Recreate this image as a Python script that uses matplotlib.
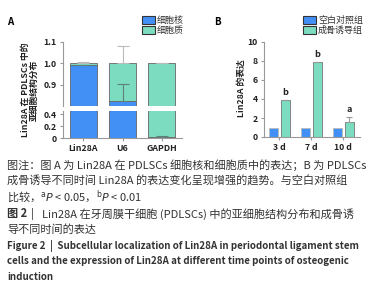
import matplotlib
matplotlib.use('Agg')
import matplotlib.pyplot as plt
import numpy as np

plt.rcParams['font.family'] = ['Noto Sans CJK SC', 'DejaVu Sans']

# 图 A 数据
genes = ['Lin28A', 'U6', 'GAPDH']
nucleus = [0.99, 0.825, 0.02]
nucleus_err = [0.004, 0.08, 0.012]
cyto = [0.01, 0.175, 0.98]
cyto_err = [0.004, 0.08, 0.003]

# 图 B 数据
days = ['3 d', '7 d', '10 d']
control = [1.0, 1.0, 1.0]
osteo = [3.85, 7.85, 1.6]
osteo_err = [0.05, 0.05, 0.5]
sig = ['b', 'b', 'a']

W, H = 378, 291
blue = '#428ff5'
green = '#7bdcc0'
edge = '#666666'
txt = '#333333'

def fx(x):
    return x / W

def fy(y):
    return 1 - y / H

fig = plt.figure(figsize=(W / 100, H / 100), dpi=100)

def style(ax):
    for s in ['top', 'right']:
        ax.spines[s].set_visible(False)
    for s in ['left', 'bottom']:
        ax.spines[s].set_color('#999999')
        ax.spines[s].set_linewidth(0.8)
    ax.tick_params(colors='#999999', labelcolor='#222222', length=2.5, width=0.8,
                   labelsize=6.3, pad=2)
    for lab in ax.get_xticklabels() + ax.get_yticklabels():
        lab.set_fontweight('bold')

# ---- 图 A：断轴堆叠柱 ----
x = np.arange(len(genes))
w = 0.68
axu = fig.add_axes([fx(63), fy(106), fx(182) - fx(63), fy(42) - fy(106)])
axl = fig.add_axes([fx(63), fy(138), fx(182) - fx(63), fy(111) - fy(138)])
for ax in (axu, axl):
    ax.bar(x, nucleus, w, color=blue, edgecolor=edge, linewidth=0.6)
    ax.bar(x, cyto, w, bottom=nucleus, color=green, edgecolor=edge, linewidth=0.6)
    ax.errorbar(x, nucleus, yerr=[[0, 0, 0], nucleus_err], fmt='none',
                ecolor='#5f7f78', elinewidth=0.8, capsize=4.5, capthick=0.8)
    ax.errorbar(x, np.array(nucleus) + np.array(cyto), yerr=[[0, 0, 0], cyto_err],
                fmt='none', ecolor='#bbbbbb', elinewidth=0.8, capsize=4.5, capthick=0.8)
    ax.set_xlim(-0.52, 2.52)
axu.set_ylim(0.8, 1.1)
axu.set_yticks([0.9, 1.0, 1.1])
axu.set_yticklabels(['0.9', '1.0', '1.1'])
axu.set_xticks([])
axl.set_ylim(0, 0.45)
axl.set_yticks([0, 0.2, 0.4])
axl.set_yticklabels(['0', '0.2', '0.4'])
axl.set_xticks(x)
axl.set_xticklabels(genes)
style(axu)
style(axl)
axu.spines['bottom'].set_visible(False)

fig.text(fx(30), fy(90), 'Lin28A 在 PDLSCs 中的\n亚细胞结构分布', rotation=90,
         ha='center', va='center', fontsize=6.3, fontweight='bold', color='#222222',
         linespacing=1.0)

# ---- 图 B：分组柱 ----
xb = np.arange(len(days))
wb = 0.27
axb = fig.add_axes([fx(264), fy(137), fx(360) - fx(264), fy(42) - fy(137)])
axb.bar(xb - 0.19, control, wb, color=blue, edgecolor='#bbbbbb', linewidth=0.6)
axb.bar(xb + 0.19, osteo, wb, color=green, edgecolor='#777777', linewidth=0.6)
axb.errorbar(xb + 0.19, osteo, yerr=[[0, 0, 0], osteo_err], fmt='none',
             ecolor='#999999', elinewidth=0.8, capsize=2.5, capthick=0.8)
for i in range(len(days)):
    axb.text(xb[i] + 0.19, osteo[i] + osteo_err[i] + 0.35, sig[i], ha='center',
             va='bottom', fontsize=6.5, fontweight='bold', color='#222222')
axb.set_xlim(-0.48, 2.52)
axb.set_ylim(0, 10)
axb.set_yticks([0, 2, 4, 6, 8, 10])
axb.set_xticks(xb)
axb.set_xticklabels(days)
style(axb)
fig.text(fx(241), fy(88), 'Lin28A 的表达', rotation=90, ha='center', va='center',
         fontsize=6.3, fontweight='bold', color='#222222')

# 面板字母
fig.text(fx(7), fy(22), 'A', fontsize=7, fontweight='bold', va='center')
fig.text(fx(214), fy(22), 'B', fontsize=7, fontweight='bold', va='center')

# 图例
def legend_item(x0, y0, color, label):
    fig.patches.append(plt.Rectangle((fx(x0), fy(y0 + 4)), fx(13), 8 / H,
                                     facecolor=color, edgecolor='#333333',
                                     linewidth=0.8, transform=fig.transFigure))
    fig.text(fx(x0 + 15), fy(y0), label, fontsize=6.5, va='center', color='#333333')

legend_item(142, 20, blue, '细胞核')
legend_item(142, 30, green, '细胞质')
legend_item(303, 20, blue, '空白对照组')
legend_item(303, 30, green, '成骨诱导组')

# 图注
fs = 8.0
fe = 7.0
fig.text(fx(7), fy(165), '图注：图 A 为 Lin28A 在 PDLSCs 细胞核和细胞质中的表达；B 为 PDLSCs',
         fontsize=fs, va='center', color=txt)
fig.text(fx(7), fy(181.5), '成骨诱导不同时间 Lin28A 的表达变化呈现增强的趋势。与空白对照组',
         fontsize=fs, va='center', color=txt)
fig.text(fx(7), fy(197), r'比较，$^{\rm a}\it{P}$ < 0.05，$^{\rm b}\it{P}$ < 0.01',
         fontsize=fs, va='center', color=txt)
fig.text(fx(7), fy(214), '图 2', fontsize=fs, va='center', color=txt, fontweight='bold')
fig.text(fx(31), fy(214), '|', fontsize=fs, va='center', color=txt)
fig.text(fx(42), fy(214), 'Lin28A 在牙周膜干细胞 (PDLSCs) 中的亚细胞结构分布和成骨诱',
         fontsize=fs, va='center', color=txt)
fig.text(fx(7), fy(229.5), '导不同时间的表达', fontsize=fs, va='center', color=txt)
fig.text(fx(7), fy(245.5),
         'Figure 2  |  Subcellular localization of Lin28A in periodontal ligament stem',
         fontsize=fe, va='center', color=txt, fontweight='bold')
fig.text(fx(7), fy(261), 'cells and the expression of Lin28A at different time points of osteogenic',
         fontsize=fe, va='center', color=txt, fontweight='bold')
fig.text(fx(7), fy(277), 'induction', fontsize=fe, va='center', color=txt, fontweight='bold')

fig.savefig('out.png', dpi=100)
